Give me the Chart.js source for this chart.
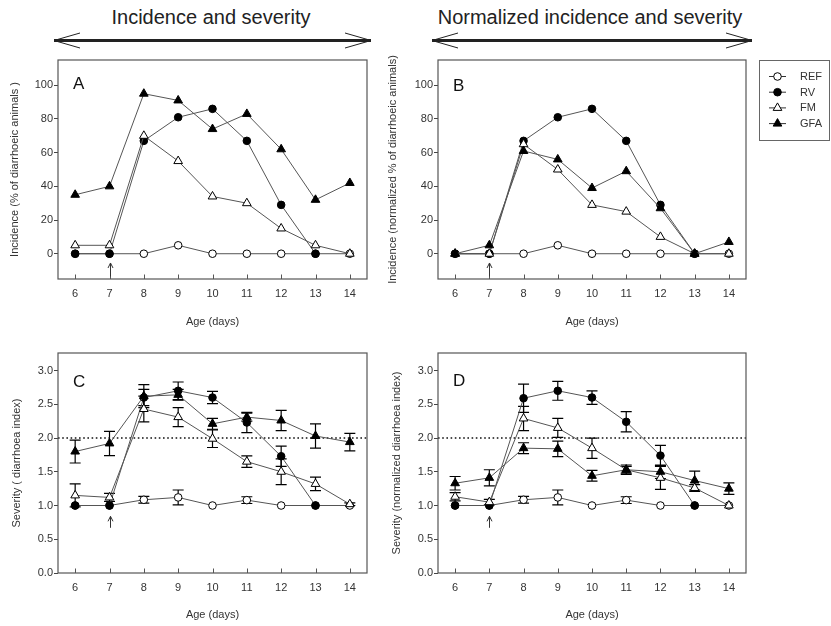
<!DOCTYPE html>
<html>
<head>
<meta charset="utf-8">
<script src="https://cdn.jsdelivr.net/npm/chart.js@4.4.1/dist/chart.umd.min.js"></script>
<style>
  html, body { margin: 0; padding: 0; background: #fff; }
  body { width: 831px; height: 626px; position: relative; overflow: hidden;
         font-family: 'Liberation Sans', Arial, sans-serif; }
  .head { position: absolute; top: 7px; font-size: 20px; line-height: 20px; color: #222;
          white-space: nowrap; transform: translateX(-50%); }
  canvas, svg { position: absolute; }
</style>
</head>
<body>
<div class="head" style="left:211px">Incidence and severity</div>
<div class="head" style="left:590px">Normalized incidence and severity</div>
<svg style="left:0;top:0" width="831" height="60">
  <g stroke="#222" fill="none">
    <line x1="54" y1="40.5" x2="371" y2="40.5" stroke-width="3"/>
    <polyline points="80,33 54,40.5 80,48" stroke-width="1"/>
    <polyline points="345,33 371,40.5 345,48" stroke-width="1"/>
    <line x1="432" y1="40.5" x2="752" y2="40.5" stroke-width="3"/>
    <polyline points="458,33 432,40.5 458,48" stroke-width="1"/>
    <polyline points="726,33 752,40.5 726,48" stroke-width="1"/>
  </g>
</svg>
<canvas id="chA" style="left:0;top:50px" width="380" height="290"></canvas>
<canvas id="chB" style="left:380px;top:50px" width="451" height="290"></canvas>
<canvas id="chC" style="left:0;top:343px" width="380" height="283"></canvas>
<canvas id="chD" style="left:380px;top:343px" width="451" height="283"></canvas>
<script>
// Age axis and tick values
const DAYS = ['6', '7', '8', '9', '10', '11', '12', '13', '14'];
const INC_TICKS = [0, 20, 40, 60, 80, 100];
const SEV_TICKS = [0, 0.5, 1, 1.5, 2, 2.5, 3];
const INFECTION_DAY = '7';

// Incidence (% of diarrhoeic animals)
const INC_REF = [0, 0, 0, 5, 0, 0, 0, 0, 0];
const INC_RV  = [0, 0, 67, 81, 86, 67, 29, 0, null];
const INC_FM  = [5, 5, 70, 55, 34, 30, 15, 5, 0];
const INC_GFA = [35, 40, 95, 91, 74, 83, 62, 32, 42];

// Normalized incidence
const NINC_REF = [0, 0, 0, 5, 0, 0, 0, 0, 0];
const NINC_RV  = [0, 0, 67, 81, 86, 67, 29, 0, null];
const NINC_FM  = [0, 0, 65, 50, 29, 25, 10, 0, 0];
const NINC_GFA = [0, 5, 61, 56, 39, 49, 27, 0, 7];

// Severity (diarrhoea index), mean and error
const SEV_REF = [1, 1, 1.085, 1.12, 1, 1.08, 1, 1, 1];
const SEV_REF_ERR = [0, 0, 0.05, 0.11, 0, 0.05, 0, 0, 0];
const SEV_RV = [1, 1, 2.6, 2.7, 2.6, 2.23, 1.73, 1, null];
const SEV_RV_ERR = [0, 0, 0.12, 0.13, 0.09, 0.15, 0.15, 0, 0];
const SEV_FM = [1.15, 1.12, 2.43, 2.31, 1.99, 1.65, 1.5, 1.32, 1.02];
const SEV_FM_ERR = [0.17, 0.06, 0.19, 0.14, 0.13, 0.085, 0.19, 0.1, 0.02];
const SEV_GFA = [1.8, 1.92, 2.62, 2.64, 2.21, 2.31, 2.26, 2.03, 1.94];
const SEV_GFA_ERR = [0.17, 0.18, 0.17, 0.08, 0.08, 0.06, 0.15, 0.18, 0.13];

// Normalized severity, mean and error
const NSEV_REF = [1, 1, 1.085, 1.12, 1, 1.08, 1, 1, 1];
const NSEV_REF_ERR = [0, 0, 0.05, 0.11, 0, 0.05, 0, 0, 0];
const NSEV_RV = [1, 1, 2.59, 2.7, 2.6, 2.24, 1.74, 1, null];
const NSEV_RV_ERR = [0, 0, 0.21, 0.14, 0.1, 0.15, 0.15, 0, 0];
const NSEV_FM = [1.13, 1.05, 2.29, 2.15, 1.85, 1.53, 1.41, 1.26, 1.0];
const NSEV_FM_ERR = [0.06, 0.04, 0.18, 0.14, 0.15, 0.05, 0.17, 0.05, 0];
const NSEV_GFA = [1.33, 1.41, 1.85, 1.84, 1.44, 1.53, 1.5, 1.37, 1.25];
const NSEV_GFA_ERR = [0.1, 0.12, 0.08, 0.115, 0.08, 0.07, 0.1, 0.14, 0.085];

const SEVERITY_LIMIT = 2;

const SERIES = [
    { label: 'REF', shape: 'circle', radius: 3.8, fill: '#fff' },
    { label: 'RV', shape: 'circle', radius: 3.8, fill: '#000' },
    { label: 'FM', shape: 'triangle', radius: 5, fill: '#fff' },
    { label: 'GFA', shape: 'triangle', radius: 5, fill: '#000' }
];

const LINE = '#555';
const TEXT = '#333';
const FONT = "'Liberation Sans', Arial, sans-serif";

// vertical error bars with caps, under the markers
const errorBars = {
    id: 'errorBars',
    beforeDatasetsDraw(chart) {
        const { ctx, scales: { y } } = chart;
        ctx.save();
        ctx.strokeStyle = '#000';
        ctx.lineWidth = 1.2;
        chart.data.datasets.forEach((ds, i) => {
            if (!ds.errors) return;
            const pts = chart.getDatasetMeta(i).data;
            ds.data.forEach((v, j) => {
                const e = ds.errors[j];
                if (v == null || !e) return;
                const x = pts[j].x;
                const t = y.getPixelForValue(v + e), b = y.getPixelForValue(v - e);
                ctx.beginPath();
                ctx.moveTo(x, t); ctx.lineTo(x, b);
                ctx.moveTo(x - 5.5, t); ctx.lineTo(x + 5.5, t);
                ctx.moveTo(x - 5.5, b); ctx.lineTo(x + 5.5, b);
                ctx.stroke();
            });
        });
        ctx.restore();
    }
};

// frame, inner x ticks, panel letter, infection arrow, dotted limit line
const panelDecor = {
    id: 'panelDecor',
    beforeDatasetsDraw(chart, args, o) {
        if (o.limit == null) return;
        const { ctx, chartArea: a, scales: { y } } = chart;
        const py = y.getPixelForValue(o.limit);
        ctx.save();
        ctx.strokeStyle = '#111';
        ctx.lineWidth = 1.6;
        ctx.setLineDash([1.6, 2.6]);
        ctx.beginPath();
        ctx.moveTo(a.left, py); ctx.lineTo(a.right, py);
        ctx.stroke();
        ctx.restore();
    },
    afterDraw(chart, args, o) {
        const { ctx, chartArea: a, scales: { x, y } } = chart;
        ctx.save();
        ctx.strokeStyle = '#555';
        ctx.lineWidth = 1.2;
        ctx.strokeRect(a.left, a.top, a.right - a.left, a.bottom - a.top);
        ctx.lineWidth = 1;
        ctx.beginPath();
        x.ticks.forEach((t, i) => {
            const px = Math.round(x.getPixelForTick(i)) + 0.5;
            ctx.moveTo(px, a.bottom); ctx.lineTo(px, a.bottom - 4.5);
        });
        ctx.stroke();

        ctx.fillStyle = '#111';
        ctx.font = '17px ' + FONT;
        ctx.textBaseline = 'alphabetic';
        ctx.fillText(o.letter, a.left + 15, a.top + o.letterDy);

        if (o.arrow) {
            const ax = Math.round(x.getPixelForValue(DAYS.indexOf(INFECTION_DAY))) + 0.5;
            const tip = y.getPixelForValue(o.arrow[0]), tail = y.getPixelForValue(o.arrow[1]);
            ctx.strokeStyle = '#333';
            ctx.beginPath();
            ctx.moveTo(ax, tail); ctx.lineTo(ax, tip);
            ctx.moveTo(ax - 2.5, tip + 5); ctx.lineTo(ax, tip); ctx.lineTo(ax + 2.5, tip + 5);
            ctx.stroke();
        }
        ctx.restore();
    }
};

// boxed legend to the right of panel B
const legendBox = {
    id: 'legendBox',
    afterDraw(chart, args, o) {
        if (!o.display) return;
        const ctx = chart.ctx;
        ctx.save();
        ctx.strokeStyle = '#666';
        ctx.lineWidth = 1;
        ctx.strokeRect(o.x + 0.5, o.y + 0.5, o.w, o.h);
        ctx.font = '11px ' + FONT;
        ctx.textBaseline = 'middle';
        SERIES.forEach((s, i) => {
            const ly = o.y + o.first + i * o.step;
            ctx.strokeStyle = '#333';
            ctx.beginPath();
            ctx.moveTo(o.x + 10, ly); ctx.lineTo(o.x + 27, ly);
            ctx.stroke();
            ctx.fillStyle = s.fill;
            ctx.strokeStyle = '#000';
            Chart.helpers.drawPoint(ctx, { pointStyle: s.shape, radius: s.radius, borderWidth: 1, rotation: 0 },
                o.x + 18.5, ly);
            ctx.fillStyle = TEXT;
            ctx.fillText(s.label, o.x + 41, ly + 0.5);
        });
        ctx.restore();
    }
};

function makeSets(values, errors) {
    return SERIES.map((s, i) => ({
        label: s.label,
        data: values[i],
        errors: errors ? errors[i] : null,
        borderColor: LINE,
        borderWidth: 1,
        pointStyle: s.shape,
        pointRadius: s.radius,
        pointBackgroundColor: s.fill,
        pointBorderColor: '#000',
        pointBorderWidth: 1,
        order: SERIES.length - i,
        tension: 0
    }));
}

function panel(id, p) {
    new Chart(document.getElementById(id), {
        type: 'line',
        data: { labels: DAYS, datasets: makeSets(p.values, p.errors) },
        plugins: [errorBars, panelDecor, legendBox],
        options: {
            responsive: false,
            animation: false,
            events: [],
            layout: { padding: { top: 10, right: p.right, left: 0, bottom: 0 } },
            plugins: {
                legend: { display: false },
                tooltip: { enabled: false },
                panelDecor: { letter: p.letter, letterDy: p.letterDy, arrow: p.arrow, limit: p.limit },
                legendBox: p.legend || { display: false }
            },
            scales: {
                x: {
                    type: 'category',
                    offset: true,
                    grid: { display: false, drawTicks: false },
                    border: { display: false },
                    ticks: { color: TEXT, font: { family: FONT, size: 11 }, padding: 8, maxRotation: 0, autoSkip: false },
                    title: { display: true, text: 'Age (days)', color: TEXT, font: { family: FONT, size: 11 },
                             padding: { top: 0, bottom: p.xTitlePad } },
                    afterFit: s => { s.height = p.xHeight; }
                },
                y: {
                    min: p.min, max: p.max,
                    afterBuildTicks: s => { s.ticks = p.ticks.map(v => ({ value: v })); },
                    grid: { drawOnChartArea: false, drawTicks: true, tickLength: 4, color: '#444' },
                    border: { display: false },
                    ticks: { color: TEXT, font: { family: FONT, size: 11 }, padding: 1,
                             callback: p.fmt },
                    title: { display: true, text: p.yTitle, color: TEXT, font: { family: FONT, size: 11 },
                             padding: { top: p.yTitlePad, bottom: 0 } },
                    afterFit: s => { s.width = 58; }
                }
            }
        }
    });
}

const incFmt = v => String(v);
const sevFmt = v => v.toFixed(1);

panel('chA', {
    letter: 'A', letterDy: 29, right: 13, xHeight: 61, xTitlePad: 11.4, yTitlePad: 8,
    min: -15, max: 115, ticks: INC_TICKS, fmt: incFmt, arrow: [-5.5, -13.5], limit: null,
    yTitle: 'Incidence (% of diarrhoeic animals )',
    values: [INC_REF, INC_RV, INC_FM, INC_GFA]
});

panel('chB', {
    letter: 'B', letterDy: 31, right: 85, xHeight: 61, xTitlePad: 11.4, yTitlePad: 6,
    min: -15, max: 115, ticks: INC_TICKS, fmt: incFmt, arrow: [-5.5, -13.5], limit: null,
    yTitle: 'Incidence (normalized % of diarrhoeic animals)',
    values: [NINC_REF, NINC_RV, NINC_FM, NINC_GFA],
    legend: { display: true, x: 379, y: 10, w: 70, h: 80, first: 16.5, step: 15.7 }
});

panel('chC', {
    letter: 'C', letterDy: 34, right: 13, xHeight: 53, xTitlePad: 4.4, yTitlePad: 10,
    min: 0, max: 3.26, ticks: SEV_TICKS, fmt: sevFmt, arrow: [0.84, 0.67], limit: SEVERITY_LIMIT,
    yTitle: 'Severity ( diarrhoea index)',
    values: [SEV_REF, SEV_RV, SEV_FM, SEV_GFA],
    errors: [SEV_REF_ERR, SEV_RV_ERR, SEV_FM_ERR, SEV_GFA_ERR]
});

panel('chD', {
    letter: 'D', letterDy: 33, right: 85, xHeight: 53, xTitlePad: 4.4, yTitlePad: 10,
    min: 0, max: 3.26, ticks: SEV_TICKS, fmt: sevFmt, arrow: [0.84, 0.67], limit: SEVERITY_LIMIT,
    yTitle: 'Severity (normalized diarrhoea index)',
    values: [NSEV_REF, NSEV_RV, NSEV_FM, NSEV_GFA],
    errors: [NSEV_REF_ERR, NSEV_RV_ERR, NSEV_FM_ERR, NSEV_GFA_ERR]
});
</script>
</body>
</html>
